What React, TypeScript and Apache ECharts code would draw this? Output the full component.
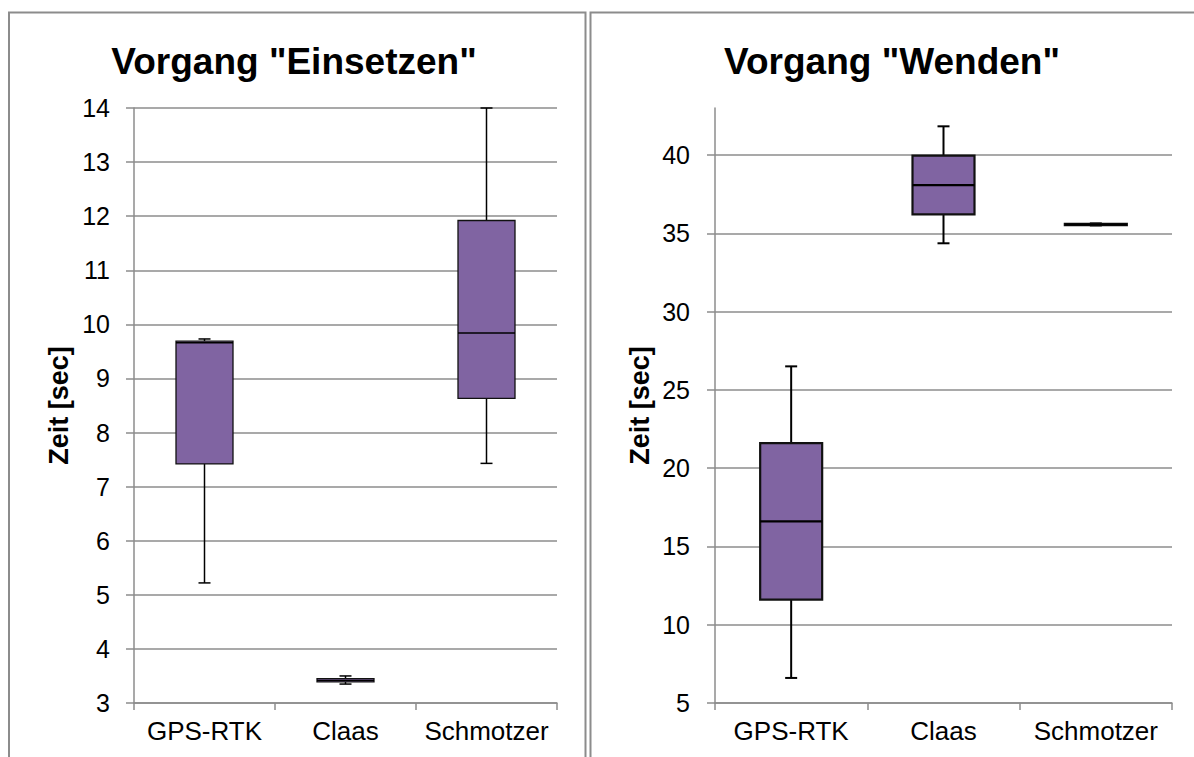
import React, { useEffect, useRef } from "react";
import * as echarts from "echarts";

const categories = ["GPS-RTK", "Claas", "Schmotzer"];

// Vorgang "Einsetzen" (sec)
const einsetzenMin = [5.22, 3.35, 7.43];
const einsetzenQ1 = [7.42, 3.39, 8.63];
const einsetzenMedian = [9.66, 3.42, 9.84];
const einsetzenQ3 = [9.69, 3.45, 11.92];
const einsetzenMax = [9.73, 3.5, 14.0];

// Vorgang "Wenden" (sec)
const wendenMin = [6.6, 34.36, 35.5];
const wendenQ1 = [11.6, 36.21, 35.52];
const wendenMedian = [16.6, 38.08, 35.56];
const wendenQ3 = [21.6, 39.96, 35.6];
const wendenMax = [26.5, 41.83, 35.63];

const titles = ['Vorgang "Einsetzen"', 'Vorgang "Wenden"'];
const axisName = "Zeit [sec]";

const FONT = "'Liberation Sans', Arial, sans-serif";
const GRAY = "#8c8c8c";
const FILL = "#8064A2";

function rows(mn: number[], q1: number[], md: number[], q3: number[], mx: number[]) {
  return categories.map((_, i) => [i, mn[i], q1[i], md[i], q3[i], mx[i]]);
}

function makeRender(boxW: number, capW: number, lw: number, boxLw: number) {
  return (params: any, api: any) => {
    const i = api.value(0);
    const pMin = api.coord([i, api.value(1)]);
    const pQ1 = api.coord([i, api.value(2)]);
    const pMed = api.coord([i, api.value(3)]);
    const pQ3 = api.coord([i, api.value(4)]);
    const pMax = api.coord([i, api.value(5)]);
    const cx = pMed[0];
    const ls = { stroke: "#000", lineWidth: lw, fill: null };
    return {
      type: "group",
      children: [
        { type: "line", shape: { x1: cx, y1: pMax[1], x2: cx, y2: pQ3[1] }, style: ls },
        { type: "line", shape: { x1: cx, y1: pQ1[1], x2: cx, y2: pMin[1] }, style: ls },
        { type: "line", shape: { x1: cx - capW / 2, y1: pMax[1], x2: cx + capW / 2, y2: pMax[1] }, style: ls },
        { type: "line", shape: { x1: cx - capW / 2, y1: pMin[1], x2: cx + capW / 2, y2: pMin[1] }, style: ls },
        {
          type: "rect",
          shape: { x: cx - boxW / 2, y: pQ3[1], width: boxW, height: pQ1[1] - pQ3[1] },
          style: { fill: FILL, stroke: "#111", lineWidth: boxLw },
        },
        { type: "line", shape: { x1: cx - boxW / 2, y1: pMed[1], x2: cx + boxW / 2, y2: pMed[1] }, style: { stroke: "#000", lineWidth: boxLw } },
      ],
    };
  };
}

export default function App() {
  const ref = useRef<HTMLDivElement>(null);
  useEffect(() => {
    if (!ref.current) return;
    const chart = echarts.init(ref.current, null, { renderer: "svg" });

    const plotTop = 108;
    const plotBottom = 703;
    const rMin = 5, rMax = 43, rTopTick = 40;
    const gridBTop = plotTop + ((rMax - rTopTick) / (rMax - rMin)) * (plotBottom - plotTop);

    const tickLabel = { color: "#000", fontSize: 25, fontFamily: FONT, margin: 24 };
    const catLabel = { color: "#000", fontSize: 26, fontFamily: FONT, margin: 15, interval: 0 };
    const axisLineStyle = { color: GRAY, width: 1.5 };
    const nameStyle = { color: "#000", fontSize: 27, fontWeight: "bold", fontFamily: FONT };

    chart.setOption({
      animation: false,
      backgroundColor: "#fff",
      graphic: [
        { type: "rect", shape: { x: 9, y: 12.5, width: 576.5, height: 800 }, style: { fill: null, stroke: GRAY, lineWidth: 2 }, silent: true },
        { type: "rect", shape: { x: 590.5, y: 12.5, width: 700, height: 800 }, style: { fill: null, stroke: GRAY, lineWidth: 2 }, silent: true },
        {
          type: "text", x: 294, y: 61,
          style: { text: titles[0], fontSize: 37, fontWeight: "bold", fontFamily: FONT, fill: "#000", align: "center", verticalAlign: "middle" },
        },
        {
          type: "text", x: 892, y: 61,
          style: { text: titles[1], fontSize: 37, fontWeight: "bold", fontFamily: FONT, fill: "#000", align: "center", verticalAlign: "middle" },
        },
      ],
      grid: [
        { left: 134, top: plotTop, width: 423, height: plotBottom - plotTop },
        { left: 715, top: plotTop, width: 457, height: plotBottom - plotTop },
        { left: 715, top: gridBTop, width: 457, height: plotBottom - gridBTop },
      ],
      xAxis: [
        {
          type: "category", gridIndex: 0, data: categories,
          axisLine: { lineStyle: axisLineStyle },
          axisTick: { show: true, length: 7, lineStyle: axisLineStyle, interval: 0 },
          axisLabel: catLabel,
        },
        { type: "category", gridIndex: 1, data: categories, show: false },
        {
          type: "category", gridIndex: 2, data: categories,
          axisLine: { lineStyle: axisLineStyle },
          axisTick: { show: true, length: 7, lineStyle: axisLineStyle, interval: 0 },
          axisLabel: catLabel,
        },
      ],
      yAxis: [
        {
          type: "value", gridIndex: 0, min: 3, max: 14, interval: 1,
          name: axisName, nameLocation: "middle", nameGap: 62, nameRotate: 90, nameTextStyle: nameStyle,
          axisLine: { show: true, lineStyle: axisLineStyle },
          axisTick: { show: true, length: 8, lineStyle: axisLineStyle },
          axisLabel: tickLabel,
          splitLine: { show: true, lineStyle: axisLineStyle },
        },
        {
          type: "value", gridIndex: 1, min: rMin, max: rMax,
          name: axisName, nameLocation: "middle", nameGap: 62, nameRotate: 90, nameTextStyle: nameStyle,
          axisLine: { show: true, lineStyle: axisLineStyle },
          axisTick: { show: false },
          axisLabel: { show: false },
          splitLine: { show: false },
        },
        {
          type: "value", gridIndex: 2, min: rMin, max: rTopTick, interval: 5,
          axisLine: { show: false },
          axisTick: { show: true, length: 8, lineStyle: axisLineStyle },
          axisLabel: { ...tickLabel, margin: 25 },
          splitLine: { show: true, lineStyle: axisLineStyle },
        },
      ],
      series: [
        {
          type: "custom", xAxisIndex: 0, yAxisIndex: 0,
          data: rows(einsetzenMin, einsetzenQ1, einsetzenMedian, einsetzenQ3, einsetzenMax),
          encode: { x: 0, y: [1, 2, 3, 4, 5] },
          renderItem: makeRender(57, 12, 1.5, 1.3),
          clip: false,
        },
        {
          type: "custom", xAxisIndex: 2, yAxisIndex: 2,
          data: rows(wendenMin, wendenQ1, wendenMedian, wendenQ3, wendenMax),
          encode: { x: 0, y: [1, 2, 3, 4, 5] },
          renderItem: makeRender(62, 12, 2, 2.2),
          clip: false,
        },
      ],
    });
    return () => chart.dispose();
  }, []);
  return <div ref={ref} style={{ position: "fixed", left: 0, top: 0, width: 1194, height: 757 }} />;
}
